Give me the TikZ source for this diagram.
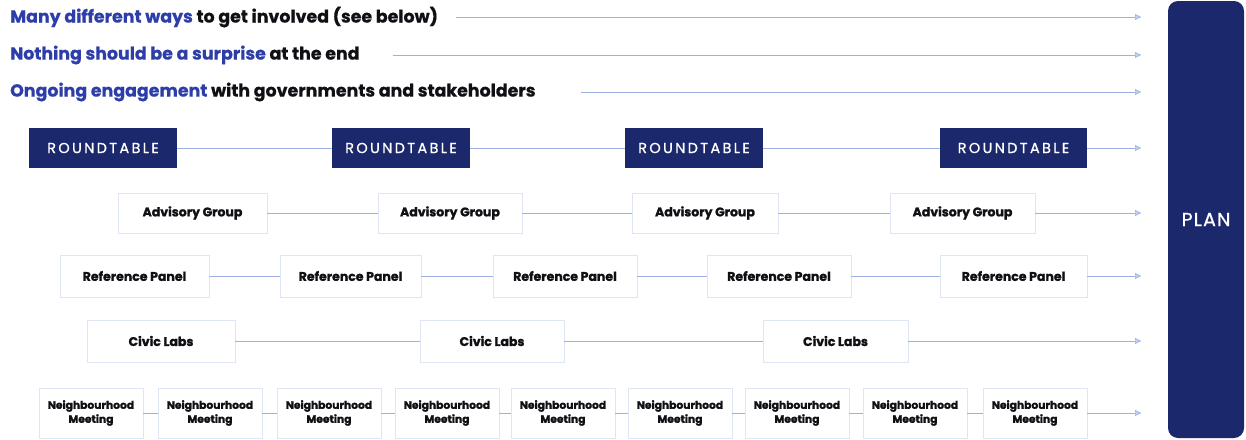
\documentclass[tikz,border=0pt]{standalone}
\usepackage{fontspec}
\setmainfont{Poppins}
\newfontfamily\rtfont{Poppins}[FakeBold=0.8, LetterSpace=16]
\newfontfamily\planfont{Poppins}[FakeBold=0.8, LetterSpace=6]
\newfontfamily\heavyfont{Poppins Bold}[FakeBold=1.4]
\newfontfamily\headfont{Poppins Bold}[FakeBold=0.6]
\usetikzlibrary{arrows.meta}
\definecolor{navy}{RGB}{27,40,108}
\definecolor{hblue}{RGB}{45,62,168}
\definecolor{arrc}{RGB}{160,176,228}
\definecolor{arrf}{RGB}{195,205,238}
\definecolor{boxb}{RGB}{222,229,244}
\definecolor{txt}{RGB}{15,15,20}
\begin{document}
\begin{tikzpicture}[x=1pt,y=-1pt,
  navybox/.style={fill=navy, text=white, inner sep=0pt, minimum height=40pt, font=\rtfont\fontsize{14.5}{16}\selectfont},
  wbox/.style={draw=boxb, line width=0.6pt, fill=white, text=txt, inner sep=0pt, font=\heavyfont\fontsize{12.5}{14}\selectfont},
  nbox/.style={wbox, minimum width=104pt, minimum height=50pt, align=center, font=\heavyfont\fontsize{10.7}{14}\selectfont},
  conn/.style={draw=arrc, line width=0.6pt},
  arr/.style={conn, -{Triangle[length=6pt,width=6pt,fill=arrf]}},
  head/.style={anchor=west, inner sep=0pt, text=txt, font=\headfont\fontsize{17.4}{20}\selectfont},
  planbox/.style={fill=navy, text=white, rounded corners=10pt, inner sep=0pt, font=\planfont\fontsize{19}{20}\selectfont}
]
\useasboundingbox (0,0) rectangle (1246,439);
\fill[white] (0,0) rectangle (1246,439);

% PLAN
\node[planbox, minimum width=76pt, minimum height=437pt] (plan) at (1206,219.5) {PLAN};

% header lines
\node[head] (h1) at (10,17) {{\color{hblue}Many different ways} to get involved (see below)};
\node[head] (h2) at (10,55) {{\color{hblue}Nothing should be a surprise} at the end};
\node[head] (h3) at (10,92) {{\color{hblue}Ongoing engagement} with governments and stakeholders};
\coordinate (h1e) at (1141,17);
\coordinate (h2e) at (1141,55);
\coordinate (h3e) at (1141,92);
\draw[arr, shorten <=18pt] (h1.east) -- (h1e);
\draw[arr, shorten <=33pt] (h2.east) -- (h2e);
\draw[arr, shorten <=45pt] (h3.east) -- (h3e);

% ROUNDTABLE row
\node[navybox, minimum width=148pt] (rt1) at (103,148) {ROUNDTABLE};
\node[navybox, minimum width=138pt] (rt2) at (401,148) {ROUNDTABLE};
\node[navybox, minimum width=138pt] (rt3) at (694,148) {ROUNDTABLE};
\node[navybox, minimum width=147pt] (rt4) at (1013.5,148) {ROUNDTABLE};
\coordinate (rte) at (1141,148);
\draw[conn] (rt1) -- (rt2);
\draw[conn] (rt2) -- (rt3);
\draw[conn] (rt3) -- (rt4);
\draw[arr] (rt4) -- (rte);

% Advisory Group row
\node[wbox, minimum width=149pt, minimum height=40pt] (ag1) at (192.5,213) {Advisory Group};
\node[wbox, minimum width=144pt, minimum height=40pt] (ag2) at (450,213) {Advisory Group};
\node[wbox, minimum width=146pt, minimum height=40pt] (ag3) at (705,213) {Advisory Group};
\node[wbox, minimum width=145pt, minimum height=40pt] (ag4) at (962.5,213) {Advisory Group};
\coordinate (age) at (1141,213);
\draw[conn] (ag1) -- (ag2);
\draw[conn] (ag2) -- (ag3);
\draw[conn] (ag3) -- (ag4);
\draw[arr] (ag4) -- (age);

% Reference Panel row
\node[wbox, minimum width=149pt, minimum height=42pt] (rp1) at (134.5,276) {Reference Panel};
\node[wbox, minimum width=141pt, minimum height=42pt] (rp2) at (350.5,276) {Reference Panel};
\node[wbox, minimum width=144pt, minimum height=42pt] (rp3) at (565,276) {Reference Panel};
\node[wbox, minimum width=144pt, minimum height=42pt] (rp4) at (779,276) {Reference Panel};
\node[wbox, minimum width=147pt, minimum height=42pt] (rp5) at (1013.5,276) {Reference Panel};
\coordinate (rpe) at (1141,276);
\draw[conn] (rp1) -- (rp2);
\draw[conn] (rp2) -- (rp3);
\draw[conn] (rp3) -- (rp4);
\draw[conn] (rp4) -- (rp5);
\draw[arr] (rp5) -- (rpe);

% Civic Labs row
\node[wbox, minimum width=148pt, minimum height=42pt] (cl1) at (161,341) {Civic Labs};
\node[wbox, minimum width=144pt, minimum height=42pt] (cl2) at (492,341) {Civic Labs};
\node[wbox, minimum width=145pt, minimum height=42pt] (cl3) at (835.5,341) {Civic Labs};
\coordinate (cle) at (1141,341);
\draw[conn] (cl1) -- (cl2);
\draw[conn] (cl2) -- (cl3);
\draw[arr] (cl3) -- (cle);

% Neighbourhood Meeting row
\foreach \i/\x in {1/91,2/210,3/329,4/447,5/563,6/680,7/797,8/915,9/1035}{
  \node[nbox] (nm\i) at (\x,413) {Neighbourhood\\Meeting};
}
\foreach \a/\b in {1/2,2/3,3/4,4/5,5/6,6/7,7/8,8/9}{
  \draw[conn] (nm\a) -- (nm\b);
}
\coordinate (nme) at (1141,413);
\draw[arr] (nm9) -- (nme);
\end{tikzpicture}
\end{document}
